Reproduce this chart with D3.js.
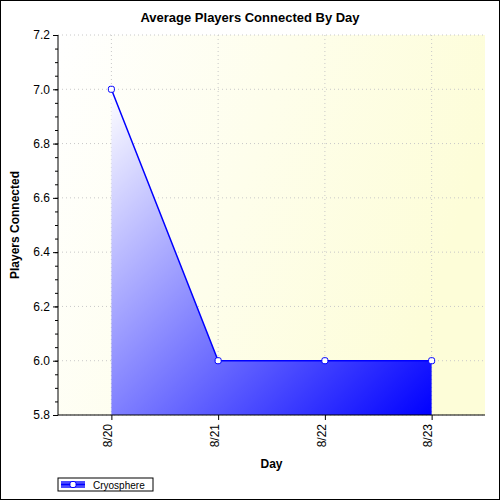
<!DOCTYPE html>
<html><head><script src="https://cdn.jsdelivr.net/npm/d3@7"></script>
<style>body{margin:0;background:#fff}text{font-family:"Liberation Sans",Arial,sans-serif}</style></head>
<body><script>
var days = ["8/20", "8/21", "8/22", "8/23"]
var players = [7.0, 6.0, 6.0, 6.0]
var yTicks = [5.8, 6.0, 6.2, 6.4, 6.6, 6.8, 7.0, 7.2]

var m = {top: 35, left: 58, right: 15, bottom: 85}
var w = 500 - m.left - m.right, h = 500 - m.top - m.bottom

var svg = d3.select("body").append("svg").attr("width", 500).attr("height", 500)
var defs = svg.append("defs")
var bg = defs.append("linearGradient").attr("id", "bg").attr("x1", 0).attr("y1", 0).attr("x2", 1).attr("y2", 0.3)
bg.append("stop").attr("offset", 0).attr("stop-color", "#ffffff")
bg.append("stop").attr("offset", 1).attr("stop-color", "#fdfdd8")
var ag = defs.append("linearGradient").attr("id", "ag").attr("x1", 0).attr("y1", 0).attr("x2", 1).attr("y2", 1)
ag.append("stop").attr("offset", 0).attr("stop-color", "#ffffff")
ag.append("stop").attr("offset", 1).attr("stop-color", "#0000ff")

svg.append("rect").attr("x", 0.5).attr("y", 0.5).attr("width", 499).attr("height", 499).attr("fill", "none").attr("stroke", "#000")

svg.append("text").attr("x", 250).attr("y", 22).attr("text-anchor", "middle")
  .style("font-size", "13px").style("font-weight", "bold").text("Average Players Connected By Day")

var g = svg.append("g").attr("transform", "translate(" + m.left + "," + m.top + ")")
g.append("rect").attr("width", w).attr("height", h).attr("fill", "url(#bg)")

var x = d3.scalePoint().domain(days).range([0, w]).padding(0.5)
var y = d3.scaleLinear().domain([5.8, 7.2]).range([h, 0])

g.selectAll(".hg").data(yTicks).enter().append("line")
  .attr("x1", 0).attr("x2", w).attr("y1", d => y(d)).attr("y2", d => y(d))
  .attr("stroke", "#c8c8c8").attr("stroke-dasharray", "1,3")
g.selectAll(".vg").data(days).enter().append("line")
  .attr("y1", 0).attr("y2", h).attr("x1", d => x(d)).attr("x2", d => x(d))
  .attr("stroke", "#c8c8c8").attr("stroke-dasharray", "1,3")

var area = d3.area().x((d, i) => x(days[i])).y0(h).y1(d => y(d))
var line = d3.line().x((d, i) => x(days[i])).y(d => y(d))
g.append("path").datum(players).attr("d", area).attr("fill", "url(#ag)")
g.append("path").datum(players).attr("d", line).attr("fill", "none").attr("stroke", "#0000ff").attr("stroke-width", 1.5)
g.selectAll(".pt").data(players).enter().append("rect")
  .attr("x", (d, i) => x(days[i]) - 3).attr("y", d => y(d) - 3).attr("width", 6).attr("height", 6).attr("rx", 2)
  .attr("fill", "#fff").attr("stroke", "#0000ff")

var yAxis = g.append("g").call(d3.axisLeft(y).tickValues(yTicks).tickFormat(d3.format(".1f")).tickSize(5))
yAxis.append("g").call(d3.axisLeft(y).tickValues(d3.range(5.8, 7.2, 0.05)).tickFormat("").tickSize(3))
var xAxis = g.append("g").attr("transform", "translate(0," + h + ")")
  .call(d3.axisBottom(x).tickSize(5))
xAxis.selectAll("text").attr("transform", "rotate(-90)").attr("text-anchor", "end")
  .attr("x", -9).attr("y", -4).attr("dy", "0.35em")
g.selectAll(".domain").remove()
g.append("line").attr("x1", 0).attr("x2", 0).attr("y1", 0).attr("y2", h).attr("stroke", "#000")
g.append("line").attr("x1", 0).attr("x2", w).attr("y1", h).attr("y2", h).attr("stroke", "#000")
g.selectAll(".tick text").style("font-size", "12px").style("font-family", "Liberation Sans, Arial, sans-serif")

svg.append("text").attr("x", m.left + w / 2).attr("y", 468).attr("text-anchor", "middle")
  .style("font-size", "12px").style("font-weight", "bold").text("Day")
svg.append("text").attr("transform", "translate(19," + (m.top + h / 2) + ") rotate(-90)").attr("text-anchor", "middle")
  .style("font-size", "12px").style("font-weight", "bold").text("Players Connected")

var lg = svg.append("g").attr("transform", "translate(58,478)")
lg.append("rect").attr("width", 95).attr("height", 13).attr("fill", "#fff").attr("stroke", "#000")
lg.append("rect").attr("x", 3).attr("y", 3).attr("width", 24).attr("height", 7).attr("fill", "#4d4dff")
lg.append("line").attr("x1", 3).attr("x2", 27).attr("y1", 6.5).attr("y2", 6.5).attr("stroke", "#0000ff").attr("stroke-width", 1.5)
lg.append("rect").attr("x", 12).attr("y", 3.5).attr("width", 6).attr("height", 6).attr("rx", 2).attr("fill", "#fff").attr("stroke", "#0000ff")
lg.append("text").attr("x", 35).attr("y", 10.5).style("font-size", "10px").text("Cryosphere")
</script></body></html>
